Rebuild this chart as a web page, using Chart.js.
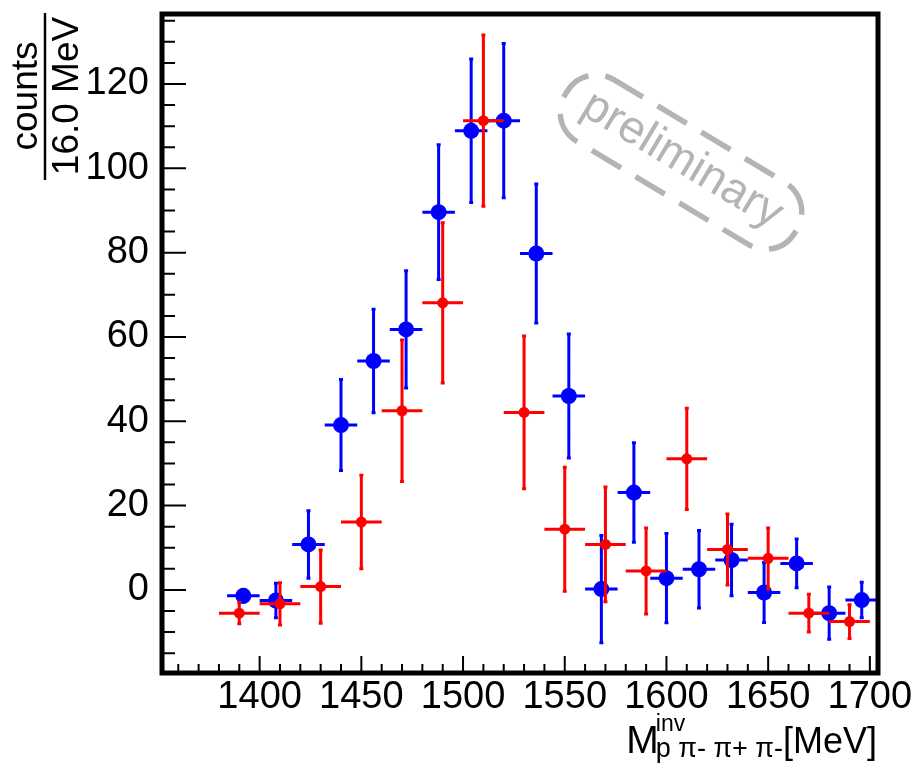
<!DOCTYPE html>
<html>
<head>
<meta charset="utf-8">
<script src="https://cdn.jsdelivr.net/npm/chart.js@4.4.0/dist/chart.umd.min.js"></script>
<style>
  html, body { margin: 0; padding: 0; background: #fff; }
</style>
</head>
<body>
<canvas id="massChart" width="917" height="766"></canvas>
<script>
// blue: 16 MeV bins
const blueMass = [1392, 1408, 1424, 1440, 1456, 1472, 1488, 1504, 1520, 1536,
                  1552, 1568, 1584, 1600, 1616, 1632, 1648, 1664, 1680, 1696];
const blueCounts = [-1.4, -2.5, 10.8, 39.1, 54.3, 61.8, 89.6, 108.9, 111.3, 79.8,
                    46.0, 0.2, 23.1, 2.8, 4.9, 7.1, -0.6, 6.3, -5.5, -2.4];
const blueErr = [1.5, 4.1, 8.0, 10.8, 12.3, 13.9, 16.0, 17.0, 18.3, 16.5,
                 14.7, 12.7, 11.8, 10.6, 9.2, 8.5, 7.1, 5.8, 6.2, 4.2];
const blueHalfBin = 8;

// red: 20 MeV bins
const redMass = [1390, 1410, 1430, 1450, 1470, 1490, 1510, 1530,
                 1550, 1570, 1590, 1610, 1630, 1650, 1670, 1690];
const redCounts = [-5.5, -3.3, 0.8, 16.1, 42.5, 68.1, 111.3, 42.1,
                   14.4, 10.8, 4.5, 31.1, 9.6, 7.5, -5.5, -7.5];
const redErr = [2.5, 5.0, 8.7, 11.1, 16.8, 19.0, 20.3, 18.1,
                14.7, 13.6, 10.2, 12.0, 8.4, 7.2, 4.5, 4.0];
const redHalfBin = 10;

const xTicks = [1400, 1450, 1500, 1550, 1600, 1650, 1700];
const yTicks = [0, 20, 40, 60, 80, 100, 120];

const FONT = "'Liberation Sans', Arial, Helvetica, sans-serif";
const BLUE = '#0000ff';
const RED = '#ff0000';
const GREY = '#b4b4b4';

const toPoints = (xs, ys, es, hw) => xs.map((x, i) => ({ x: x, y: ys[i], ye: es[i], xe: hw }));

// error crosses, drawn just before each dataset's markers
const errorBars = {
    id: 'errorBars',
    beforeDatasetDraw(chart, args) {
        const ds = chart.data.datasets[args.index];
        const xs = chart.scales.x, ys = chart.scales.y;
        const ctx = chart.ctx;
        const a = chart.chartArea;
        ctx.save();
        ctx.beginPath();
        ctx.rect(a.left, a.top, a.right - a.left, a.bottom - a.top);
        ctx.clip();
        ctx.strokeStyle = ds.backgroundColor;
        ctx.lineWidth = 3;
        ctx.beginPath();
        ds.data.forEach(p => {
            const px = xs.getPixelForValue(p.x);
            const py = ys.getPixelForValue(p.y);
            const top = ys.getPixelForValue(p.y + p.ye);
            const bot = ys.getPixelForValue(p.y - p.ye);
            ctx.moveTo(xs.getPixelForValue(p.x - p.xe), py);
            ctx.lineTo(xs.getPixelForValue(p.x + p.xe), py);
            ctx.moveTo(px, top);
            ctx.lineTo(px, bot);
            // small end caps
            ctx.moveTo(px - 2, top); ctx.lineTo(px + 2, top);
            ctx.moveTo(px - 2, bot); ctx.lineTo(px + 2, bot);
        });
        ctx.stroke();
        ctx.restore();
    }
};

// ROOT style frame, inward ticks, titles and stamp
const frame = {
    id: 'frame',
    afterDraw(chart) {
        const ctx = chart.ctx;
        const a = chart.chartArea;
        const xs = chart.scales.x, ys = chart.scales.y;
        ctx.save();

        // ticks
        ctx.strokeStyle = '#000';
        ctx.lineWidth = 2;
        ctx.beginPath();
        for (let v = -15; v <= 135; v += 5) {
            const py = ys.getPixelForValue(v);
            const len = v % 20 === 0 ? 24 : 13;
            ctx.moveTo(a.left, py);
            ctx.lineTo(a.left + len, py);
        }
        for (let v = 1360; v <= 1700; v += 10) {
            const px = xs.getPixelForValue(v);
            const len = v % 50 === 0 ? 17 : 9;
            ctx.moveTo(px, a.bottom);
            ctx.lineTo(px, a.bottom - len);
        }
        ctx.stroke();

        // frame
        ctx.lineWidth = 5;
        ctx.strokeRect(a.left, a.top, a.right - a.left, a.bottom - a.top);

        // y title: counts / 16.0 MeV
        ctx.fillStyle = '#000';
        ctx.font = '37px ' + FONT;
        ctx.textAlign = 'center';
        ctx.textBaseline = 'alphabetic';
        ctx.save();
        ctx.translate(37, 96);
        ctx.rotate(-Math.PI / 2);
        ctx.fillText('counts', 0, 0);
        ctx.restore();
        ctx.save();
        ctx.translate(78, 96);
        ctx.rotate(-Math.PI / 2);
        ctx.fillText('16.0 MeV', 0, 0);
        ctx.restore();
        ctx.lineWidth = 2.5;
        ctx.beginPath();
        ctx.moveTo(45, 13);
        ctx.lineTo(45, 180);
        ctx.stroke();

        // x title: M^inv_{p pi- pi+ pi-} [MeV]
        const right = 877;
        ctx.textAlign = 'left';
        ctx.font = '36px ' + FONT;
        const unit = '[MeV]';
        const wUnit = ctx.measureText(unit).width;
        ctx.font = '27px ' + FONT;
        const sub = 'p \u03c0- \u03c0+ \u03c0-';
        const wSub = ctx.measureText(sub).width;
        const x0 = right - wUnit - wSub;
        ctx.fillText(sub, x0, 757);
        ctx.font = '23px ' + FONT;
        ctx.fillText('inv', x0, 731);
        ctx.font = '39px ' + FONT;
        const wM = ctx.measureText('M').width;
        ctx.fillText('M', x0 - wM + 3, 753);
        ctx.font = '36px ' + FONT;
        ctx.fillText(unit, right - wUnit, 753);

        // preliminary stamp
        ctx.save();
        ctx.translate(681, 162);
        ctx.rotate(31 * Math.PI / 180);
        ctx.strokeStyle = GREY;
        ctx.fillStyle = GREY;
        ctx.lineWidth = 5.5;
        ctx.setLineDash([34, 17]);
        const L = 134, H = 36, R = 34;
        ctx.beginPath();
        ctx.moveTo(-L + R, -H);
        ctx.lineTo(L - R, -H);
        ctx.arcTo(L, -H, L, 0, R);
        ctx.arcTo(L, H, L - R, H, R);
        ctx.lineTo(-L + R, H);
        ctx.arcTo(-L, H, -L, 0, R);
        ctx.arcTo(-L, -H, -L + R, -H, R);
        ctx.closePath();
        ctx.stroke();
        ctx.setLineDash([]);
        ctx.font = '46px ' + FONT;
        ctx.textAlign = 'center';
        ctx.textBaseline = 'middle';
        ctx.fillText('preliminary', 0, -2);
        ctx.restore();

        ctx.restore();
    }
};

document.addEventListener('DOMContentLoaded', () => {
    const ctx = document.getElementById('massChart').getContext('2d');
    Chart.defaults.font.family = FONT;
    Chart.defaults.color = '#000';

    new Chart(ctx, {
        type: 'scatter',
        data: {
            datasets: [
                {
                    label: 'blue',
                    data: toPoints(blueMass, blueCounts, blueErr, blueHalfBin),
                    backgroundColor: BLUE,
                    borderWidth: 0,
                    pointRadius: 8,
                    order: 2
                },
                {
                    label: 'red',
                    data: toPoints(redMass, redCounts, redErr, redHalfBin),
                    backgroundColor: RED,
                    borderWidth: 0,
                    pointRadius: 5.5,
                    order: 1
                }
            ]
        },
        options: {
            responsive: false,
            animation: false,
            layout: { padding: { left: 0, top: 14, right: 39, bottom: 0 } },
            plugins: { legend: false, tooltip: { enabled: false } },
            scales: {
                x: {
                    type: 'linear',
                    min: 1352,
                    max: 1704,
                    grid: { display: false },
                    border: { display: false },
                    afterFit: s => { s.height = 93; s.paddingLeft = 0; s.paddingRight = 0; },
                    afterBuildTicks: s => { s.ticks = xTicks.map(v => ({ value: v })); },
                    ticks: {
                        font: { size: 38 },
                        padding: -6,
                        maxRotation: 0,
                        autoSkip: false,
                        callback: v => String(v)
                    }
                },
                y: {
                    min: -19.7,
                    max: 136.6,
                    grid: { display: false },
                    border: { display: false },
                    afterFit: s => { s.width = 162; s.paddingTop = 0; s.paddingBottom = 0; },
                    afterBuildTicks: s => { s.ticks = yTicks.map(v => ({ value: v })); },
                    ticks: {
                        font: { size: 38 },
                        padding: 5,
                        callback: v => String(v)
                    }
                }
            }
        },
        plugins: [errorBars, frame]
    });
});
</script>
</body>
</html>
